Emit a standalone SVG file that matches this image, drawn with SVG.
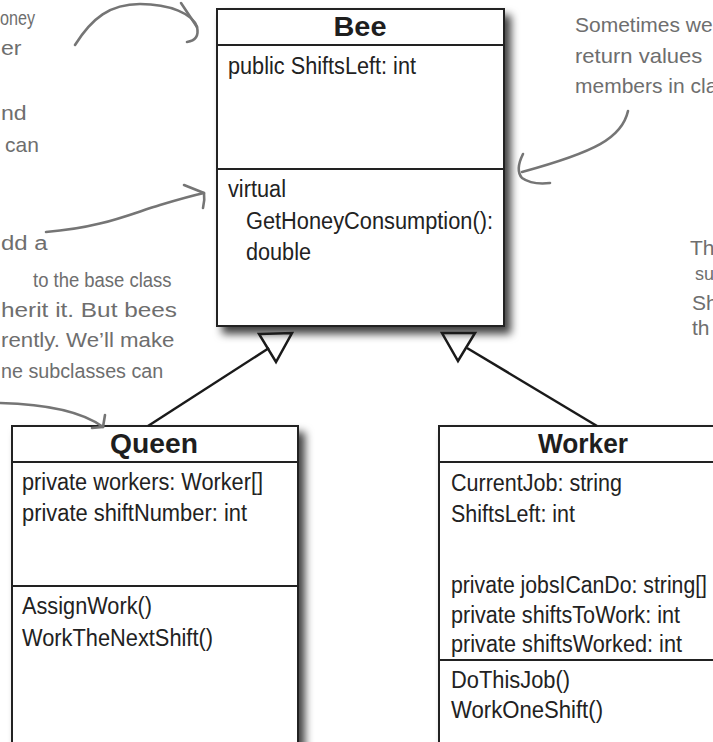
<svg xmlns="http://www.w3.org/2000/svg" width="713" height="742" viewBox="0 0 713 742">
<defs>
<filter id="shadow" x="-10%" y="-10%" width="130%" height="130%">
<feDropShadow dx="6" dy="7" stdDeviation="4" flood-color="#000" flood-opacity="0.75"/>
</filter>
<style>
.box{fill:#fff;stroke:#222;stroke-width:2}
.sep{stroke:#222;stroke-width:1.8}
.title{font-family:"Liberation Sans",Arial,sans-serif;font-weight:bold;font-size:27px;fill:#1e1e1e;text-anchor:middle}
.txt{font-family:"Liberation Sans",Arial,sans-serif;font-size:23px;fill:#222}
.note{font-family:"Liberation Sans",Arial,sans-serif;font-size:21px;fill:#6e6e6e}
.conn{stroke:#1a1a1a;stroke-width:2.5;fill:none}
.tri{stroke:#1a1a1a;stroke-width:2.5;fill:none;stroke-linejoin:miter}
.hand{stroke:#757575;stroke-width:2.6;fill:none;stroke-linecap:round;stroke-linejoin:round}
</style>
</defs>
<rect width="713" height="742" fill="#fff"/>

<g id="bee">
<rect class="box" x="217" y="9" width="287" height="317" filter="url(#shadow)"/>
<rect class="box" x="217" y="9" width="287" height="317"/>
<line class="sep" x1="217" y1="45" x2="504" y2="45"/>
<line class="sep" x1="217" y1="169" x2="504" y2="169"/>
<text class="title" x="360" y="36" textLength="53" lengthAdjust="spacingAndGlyphs">Bee</text>
<text class="txt" x="228" y="74" textLength="188" lengthAdjust="spacingAndGlyphs">public ShiftsLeft: int</text>
<text class="txt" x="228" y="197" textLength="58" lengthAdjust="spacingAndGlyphs">virtual</text>
<text class="txt" x="246" y="229" textLength="247" lengthAdjust="spacingAndGlyphs">GetHoneyConsumption():</text>
<text class="txt" x="246" y="260" textLength="65" lengthAdjust="spacingAndGlyphs">double</text>
</g>

<g id="queen">
<rect class="box" x="12" y="426" width="286" height="340" filter="url(#shadow)"/>
<rect class="box" x="12" y="426" width="286" height="340"/>
<line class="sep" x1="12" y1="462" x2="298" y2="462"/>
<line class="sep" x1="12" y1="586" x2="298" y2="586"/>
<text class="title" x="154" y="453" textLength="88" lengthAdjust="spacingAndGlyphs">Queen</text>
<text class="txt" x="22" y="490" textLength="241" lengthAdjust="spacingAndGlyphs">private workers: Worker[]</text>
<text class="txt" x="22" y="521" textLength="225" lengthAdjust="spacingAndGlyphs">private shiftNumber: int</text>
<text class="txt" x="22" y="614" textLength="130" lengthAdjust="spacingAndGlyphs">AssignWork()</text>
<text class="txt" x="22" y="646" textLength="191" lengthAdjust="spacingAndGlyphs">WorkTheNextShift()</text>
</g>

<g id="worker">
<rect class="box" x="439" y="426" width="300" height="340" filter="url(#shadow)"/>
<rect class="box" x="439" y="426" width="300" height="340"/>
<line class="sep" x1="439" y1="462" x2="713" y2="462"/>
<line class="sep" x1="439" y1="660" x2="713" y2="660"/>
<text class="title" x="583" y="453" textLength="90" lengthAdjust="spacingAndGlyphs">Worker</text>
<text class="txt" x="451" y="491" textLength="171" lengthAdjust="spacingAndGlyphs">CurrentJob: string</text>
<text class="txt" x="451" y="522" textLength="124" lengthAdjust="spacingAndGlyphs">ShiftsLeft: int</text>
<text class="txt" x="451" y="593" textLength="256" lengthAdjust="spacingAndGlyphs">private jobsICanDo: string[]</text>
<text class="txt" x="451" y="623" textLength="229" lengthAdjust="spacingAndGlyphs">private shiftsToWork: int</text>
<text class="txt" x="451" y="652" textLength="231" lengthAdjust="spacingAndGlyphs">private shiftsWorked: int</text>
<text class="txt" x="451" y="688" textLength="119" lengthAdjust="spacingAndGlyphs">DoThisJob()</text>
<text class="txt" x="451" y="718" textLength="152" lengthAdjust="spacingAndGlyphs">WorkOneShift()</text>
</g>

<g id="connectors">
<line class="conn" x1="148" y1="426" x2="269" y2="348"/>
<polygon class="tri" points="259,334 292,333 276,362"/>
<line class="conn" x1="597" y1="426" x2="467" y2="348"/>
<polygon class="tri" points="442,333 475,333 458,361"/>
</g>

<g id="annotations">
<text class="note" transform="translate(0,25) scale(0.77,1)">oney</text>
<text class="note" transform="translate(1,55) scale(1.1,1)">er</text>
<text class="note" transform="translate(1,120) scale(1.1,1)">nd</text>
<text class="note" x="5" y="152">can</text>
<text class="note" transform="translate(1,250) scale(1.14,1)">dd a</text>
<text class="note" transform="translate(33,287) scale(0.88,1)">to the base class</text>
<text class="note" transform="translate(1,317) scale(1.16,1)">herit it. But bees</text>
<text class="note" transform="translate(1,347) scale(1.06,1)">rently. We’ll make</text>
<text class="note" transform="translate(1,378) scale(0.94,1)">ne subclasses can</text>
<text class="note" x="575" y="32">Sometimes we</text>
<text class="note" transform="translate(575,63) scale(1.05,1)">return values</text>
<text class="note" x="575" y="93">members in cla</text>
<text class="note" x="690" y="255">Th</text>
<text class="note" x="695" y="280" style="font-size:18px">su</text>
<text class="note" x="692" y="310">Sh</text>
<text class="note" x="692" y="335">th</text>
<path class="hand" d="M75,45 C92,18 110,4 140,4 C170,4 193,14 197,27 Q200,40 187,42"/>
<path class="hand" d="M181,3 L197,27"/>
<path class="hand" d="M46,232 C100,228 130,214 160,205 C180,199 195,195 204,193"/>
<path class="hand" d="M184,185 L204,193 Q205,200 203,208"/>
<path class="hand" d="M0,403 C40,404 80,410 103,427"/>
<path class="hand" d="M92,428 L103,427 L105,415"/>
<path class="hand" d="M628,111 C622,138 595,152 522,172"/>
<path class="hand" d="M523,154 Q515,170 522,178 Q532,185 550,183"/>
</g>
</svg>
